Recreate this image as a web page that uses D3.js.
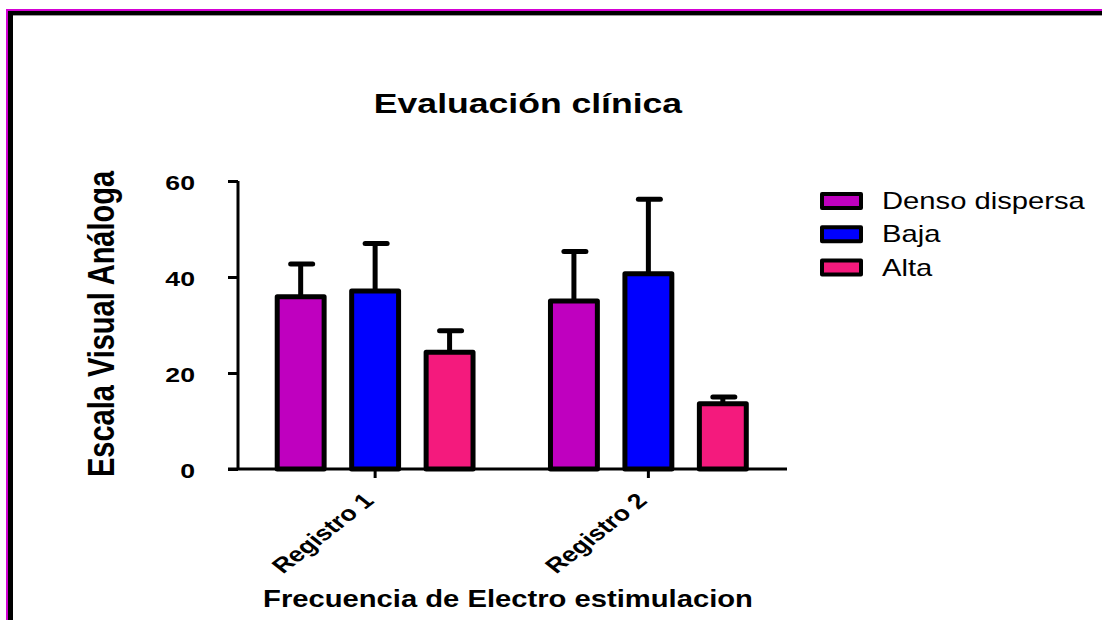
<!DOCTYPE html>
<html>
<head>
<meta charset="utf-8">
<script src="https://cdn.jsdelivr.net/npm/d3@7"></script>
<style>
  html, body { margin: 0; padding: 0; background: #fff; }
  svg { display: block; }
  text { font-family: "Liberation Sans", Arial, Helvetica, sans-serif; fill: #000; }
</style>
</head>
<body>
<svg id="chart" width="1102" height="620"></svg>
<script>
// Grouped bar chart with error bars: clinical evaluation by stimulation frequency
const categories = ["Registro 1", "Registro 2"];
const seriesNames = ["Denso dispersa", "Baja", "Alta"];
const seriesColors = ["#BF00BF", "#0000FF", "#F41A7D"];
const meansDensoDispersa = [35.9, 35.0];
const meansBaja = [37.1, 40.7];
const meansAlta = [24.3, 13.6];
const errDensoDispersa = [6.8, 10.3];
const errBaja = [9.9, 15.5];
const errAlta = [4.5, 1.4];
const yTicks = [0, 20, 40, 60];

const means = [meansDensoDispersa, meansBaja, meansAlta];
const errs = [errDensoDispersa, errBaja, errAlta];

const chartTitle = "Evaluación clínica";
const yTitle = "Escala Visual Análoga";
const xTitle = "Frecuencia de Electro estimulacion";

// text is drawn horizontally widened
const SX = 1.27;

const svg = d3.select("#chart");

// frame: magenta hairline over a thick black border on top and left
svg.append("rect").attr("x", 6).attr("y", 9).attr("width", 1200).attr("height", 700).attr("fill", "#000");
svg.append("rect").attr("x", 13).attr("y", 15).attr("width", 1200).attr("height", 700).attr("fill", "#fff");
svg.append("rect").attr("x", 13).attr("y", 15).attr("width", 1200).attr("height", 1).attr("fill", "#9a9a9a");
svg.append("rect").attr("x", 6).attr("y", 9).attr("width", 1200).attr("height", 2).attr("fill", "#D400D4");
svg.append("rect").attr("x", 6).attr("y", 9).attr("width", 2).attr("height", 700).attr("fill", "#D400D4");

const y = d3.scaleLinear().domain([0, 60]).range([469, 181]);
const x0 = d3.scaleBand().domain(categories).range([238.5, 785]).paddingInner(0).paddingOuter(0);
const x1 = d3.scaleBand().domain(seriesNames).range([0, x0.bandwidth()]).paddingInner(0.37).paddingOuter(0.52);

const rows = [];
categories.forEach((c, ci) => {
  seriesNames.forEach((s, si) => {
    rows.push({ cat: c, series: s, color: seriesColors[si], mean: means[si][ci], err: errs[si][ci] });
  });
});

// axes
const gY = svg.append("g").attr("transform", "translate(238,0)")
  .call(d3.axisLeft(y).tickValues(yTicks).tickSize(10).tickPadding(0).tickFormat(d3.format("d")));
gY.select(".domain").attr("stroke", "#000").attr("stroke-width", 3).attr("d", `M0,${y(60)}V${y(0)}`);
gY.selectAll(".tick line").attr("stroke", "#000").attr("stroke-width", 3);
gY.selectAll(".tick text").remove();
gY.selectAll(".tick").append("text")
  .attr("text-anchor", "end")
  .attr("font-size", 21).attr("font-weight", "bold")
  .attr("transform", `translate(-43,8) scale(${SX},1)`)
  .text(d => d);

const gX = svg.append("g").attr("transform", `translate(0,${y(0)})`)
  .call(d3.axisBottom(x0).tickSize(9).tickPadding(0));
gX.select(".domain").attr("stroke", "#000").attr("stroke-width", 3).attr("d", "M228,0H787");
gX.selectAll(".tick line").attr("stroke", "#000").attr("stroke-width", 3);
gX.selectAll(".tick text").remove();
gX.selectAll(".tick").append("text")
  .attr("text-anchor", "end")
  .attr("font-size", 21).attr("font-weight", "bold")
  .attr("transform", `translate(0,33) scale(${SX},1) rotate(-45)`)
  .text(d => d);

// bars
const plot = svg.append("g");
const bx = d => x0(d.cat) + x1(d.series);
const bw = x1.bandwidth();

// error bars (drawn under bars so they start at the bar top)
plot.selectAll("line.err").data(rows).join("line")
  .attr("class", "err")
  .attr("x1", d => bx(d) + bw / 2).attr("x2", d => bx(d) + bw / 2)
  .attr("y1", d => y(d.mean)).attr("y2", d => y(d.mean + d.err))
  .attr("stroke", "#000").attr("stroke-width", 5);
plot.selectAll("line.cap").data(rows).join("line")
  .attr("class", "cap")
  .attr("x1", d => bx(d) + bw / 2 - 10).attr("x2", d => bx(d) + bw / 2 + 12)
  .attr("y1", d => y(d.mean + d.err)).attr("y2", d => y(d.mean + d.err))
  .attr("stroke", "#000").attr("stroke-width", 5).attr("stroke-linecap", "round");

plot.selectAll("rect.bar").data(rows).join("rect")
  .attr("class", "bar")
  .attr("x", bx).attr("width", bw)
  .attr("y", d => y(d.mean)).attr("height", d => y(0) - y(d.mean))
  .attr("fill", d => d.color)
  .attr("stroke", "#000").attr("stroke-width", 5).attr("stroke-linejoin", "round");

// title
svg.append("text")
  .attr("text-anchor", "middle").attr("font-size", 28).attr("font-weight", "bold")
  .attr("transform", `translate(528,113) scale(${SX},1)`)
  .text(chartTitle);

// axis titles
svg.append("text")
  .attr("text-anchor", "middle").attr("font-size", 29).attr("font-weight", "bold")
  .attr("transform", `translate(114,324) scale(${SX},1) rotate(-90)`)
  .text(yTitle);
svg.append("text")
  .attr("text-anchor", "middle").attr("font-size", 23).attr("font-weight", "bold")
  .attr("transform", `translate(508,607) scale(${SX},1)`)
  .text(xTitle);

// legend
const legend = svg.append("g").attr("transform", "translate(822,0)");
const legItems = legend.selectAll("g").data(seriesNames).join("g")
  .attr("transform", (d, i) => `translate(0,${201 + i * 33.3})`);
legItems.append("rect")
  .attr("x", 0).attr("y", -7).attr("width", 39).attr("height", 14)
  .attr("fill", (d, i) => seriesColors[i])
  .attr("stroke", "#000").attr("stroke-width", 4).attr("stroke-linejoin", "round");
legItems.append("text")
  .attr("font-size", 23)
  .attr("transform", `translate(60,8) scale(${SX},1)`)
  .text(d => d);
</script>
</body>
</html>
